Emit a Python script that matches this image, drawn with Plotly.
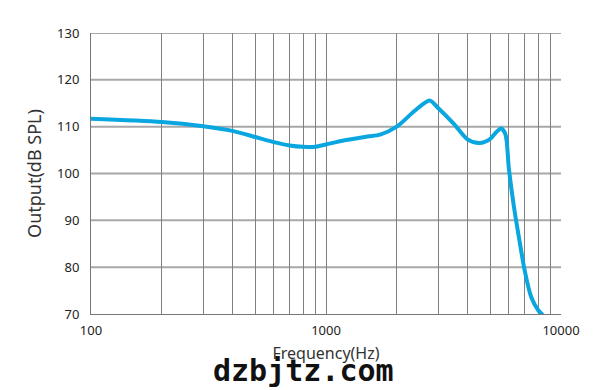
import plotly.graph_objects as go

freq_hz = [100, 200, 300, 400, 500, 600, 700, 800, 900, 1000, 1200, 1500, 1700, 2000,
           2400, 2760, 3000, 3500, 4000, 4500, 5000, 5300, 5560, 5800, 6000, 6300,
           6650, 7000, 7460, 8000, 8360]
spl_db = [111.7, 111.0, 110.1, 109.1, 107.8, 106.7, 106.0, 105.7, 105.7, 106.2, 107.1, 107.9,
          108.3, 110.0, 113.5, 115.6, 114.0, 110.6, 107.3, 106.5, 107.4, 108.8, 109.6, 108.4,
          101.0, 93.0, 85.8, 79.4, 73.7, 70.8, 69.8]

x_tickvals = [100, 1000, 10000]
x_ticktext = ["100", "1000", "10000"]
x_minor = [200, 300, 400, 500, 600, 700, 800, 900,
           2000, 3000, 4000, 5000, 6000, 7000, 8000, 9000]
y_tickvals = [70, 80, 90, 100, 110, 120, 130]

fig = go.Figure()
for yv in y_tickvals[1:]:
    fig.add_shape(type="line", xref="paper", x0=0, x1=1, yref="y", y0=yv, y1=yv,
                  line=dict(color="#a8a8a8", width=2), layer="below")
fig.add_trace(go.Scatter(x=freq_hz, y=spl_db, mode="lines",
                         line=dict(color="#0aa6df", width=4, shape="spline", smoothing=0.8),
                         hoverinfo="skip", showlegend=False))

font_family = "Noto Sans, Open Sans, sans-serif"
fig.update_layout(
    width=612, height=390,
    margin=dict(l=91, r=51, t=33, b=76),
    paper_bgcolor="white", plot_bgcolor="white",
    font=dict(family=font_family, size=12, color="#222"),
    xaxis=dict(type="log", range=[2, 4], tickvals=x_tickvals, ticktext=x_ticktext,
               showgrid=True, gridcolor="#808080", gridwidth=1,
               minor=dict(showgrid=True, gridcolor="#808080", gridwidth=1, tickvals=x_minor),
               showline=True, linecolor="#777", linewidth=1,
               ticks="", zeroline=False, ticklabelstandoff=4,
               tickfont=dict(size=13, color="#222"),
               title=dict(text="Frequency(Hz)", font=dict(size=16, color="#333"), standoff=10)),
    yaxis=dict(range=[70, 130], tickvals=y_tickvals,
               showgrid=False,
               showline=True, linecolor="#777", linewidth=1,
               ticks="", zeroline=False, ticklabelstandoff=8,
               tickfont=dict(size=13, color="#222"),
               title=dict(text="Output(dB SPL)", font=dict(size=18, color="#333"), standoff=10)),
)
fig.add_annotation(text="<b>dzbjtz.com</b>", x=0.5, y=-0.2, xref="paper", yref="paper",
                   xanchor="center", yanchor="middle", showarrow=False, xshift=-23,
                   font=dict(family="DejaVu Sans Mono", size=30, color="#111"))
fig.write_html("out.html")
